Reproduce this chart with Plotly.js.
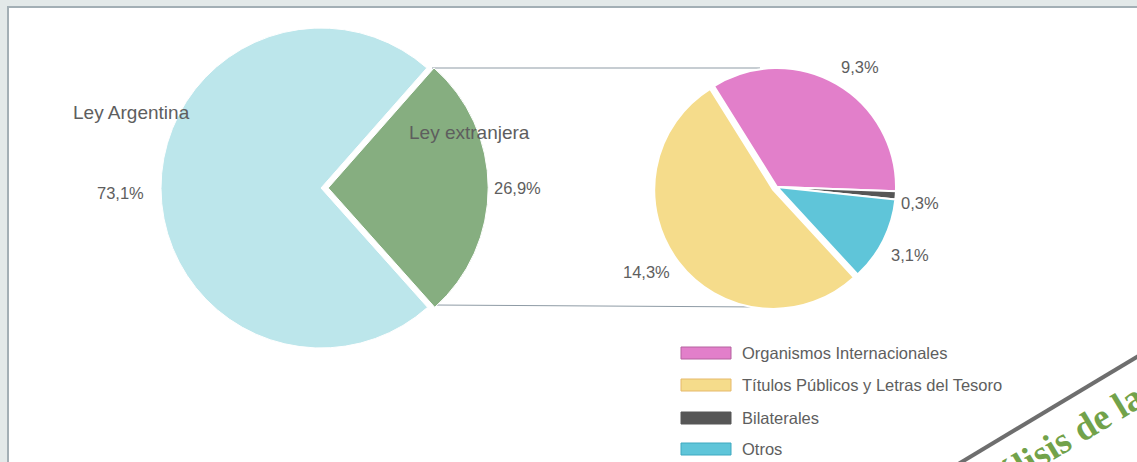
<!DOCTYPE html>
<html>
<head>
<meta charset="utf-8">
<script src="https://cdn.plot.ly/plotly-3.0.1.min.js"></script>
<style>html,body{margin:0;padding:0;background:#e3e9e9;}#chart{width:1137px;height:462px;}</style>
</head>
<body>
<div id="chart"></div>
<script>
// ---- data ----
const mainLabels = ['Ley extranjera', 'Ley Argentina'];
const mainValues = [26.9, 73.1];
const mainColors = ['#86ae80', '#bce6eb'];

const subLabels = ['Organismos Internacionales', 'Bilaterales', 'Otros', 'Títulos Públicos y Letras del Tesoro'];
const subValues = [9.3, 0.3, 3.1, 14.3];
const subColors = ['#e27fca', '#565656', '#5fc5d9', '#f5dc8b'];
const subBorders = ['#b5629f', '#565656', '#3fa9c0', '#e6b96a'];
const legendOrder = ['Organismos Internacionales', 'Títulos Públicos y Letras del Tesoro', 'Bilaterales', 'Otros'];

const fmt = v => v.toFixed(1).replace('.', ',') + '%';

// ---- helpers (pixel -> paper) ----
const W = 1137, H = 462;
const px = x => x / W;
const py = y => 1 - y / H;

const FONT = 'Liberation Sans, Arial, sans-serif';
const TXT = '#5e5e5e';

// main pie geometry
const mR = 160, mPull = 0.045, mcx = 321, mcy = 188;
const mHalf = mR * (1 + mPull);
// sub pie geometry
const sR = 119, sPull = 0.04, scx = 777, scy = 187;
const sHalf = sR * (1 + sPull);

const traces = [
  {
    type: 'pie', labels: mainLabels, values: mainValues, sort: false,
    direction: 'clockwise', rotation: 41.4,
    pull: [mPull, 0],
    marker: { colors: mainColors, line: { color: '#ffffff', width: 1 } },
    textinfo: 'none', hoverinfo: 'skip', showlegend: false,
    domain: { x: [px(mcx - mHalf), px(mcx + mHalf)], y: [py(mcy + mHalf), py(mcy - mHalf)] }
  },
  {
    type: 'pie', labels: subLabels, values: subValues, sort: false,
    direction: 'clockwise', rotation: -32,
    pull: [0, 0, 0, sPull],
    marker: { colors: subColors, line: { color: '#ffffff', width: 2 } },
    textinfo: 'none', hoverinfo: 'skip', showlegend: false,
    domain: { x: [px(scx - sHalf), px(scx + sHalf)], y: [py(scy + sHalf), py(scy - sHalf)] }
  }
];

const shapes = [
  // white panel with frame
  { type: 'rect', xref: 'paper', yref: 'paper', x0: px(8), x1: px(1150), y0: py(480), y1: py(7),
    fillcolor: '#ffffff', line: { color: '#a3afb5', width: 2 }, layer: 'below' },
  // connector lines
  { type: 'line', xref: 'paper', yref: 'paper', x0: px(432), y0: py(68), x1: px(760), y1: py(68),
    line: { color: '#8e9ba5', width: 1 }, layer: 'below' },
  { type: 'line', xref: 'paper', yref: 'paper', x0: px(433), y0: py(305), x1: px(762), y1: py(307),
    line: { color: '#8e9ba5', width: 1 }, layer: 'below' },
  // stamp diagonal line
  { type: 'line', xref: 'paper', yref: 'paper', x0: px(945), y0: py(472), x1: px(1150), y1: py(349),
    line: { color: '#6e6e6e', width: 4 }, layer: 'above' }
];

const annotations = [];
function label(text, x, y, size) {
  annotations.push({ xref: 'paper', yref: 'paper', x: px(x), y: py(y), text: text, showarrow: false,
    xanchor: 'center', yanchor: 'middle', font: { family: FONT, size: size, color: TXT } });
}
label(mainLabels[1], 131, 112, 19);
label(fmt(mainValues[1]), 120, 193, 16.5);
label(mainLabels[0], 469, 132, 19);
label(fmt(mainValues[0]), 517, 188, 16.5);
label(fmt(subValues[0]), 860, 67, 16.5);
label(fmt(subValues[1]), 920, 203, 16.5);
label(fmt(subValues[2]), 910, 255, 16.5);
label(fmt(subValues[3]), 646, 272, 16.5);

// custom legend
const legY = [353, 385, 418, 449];
legendOrder.forEach((name, i) => {
  const k = subLabels.indexOf(name);
  shapes.push({ type: 'rect', xref: 'paper', yref: 'paper',
    x0: px(681), x1: px(731), y0: py(legY[i] + 6), y1: py(legY[i] - 6),
    fillcolor: subColors[k], line: { color: subBorders[k], width: 1 }, layer: 'above' });
  annotations.push({ xref: 'paper', yref: 'paper', x: px(740), y: py(legY[i]), text: name, showarrow: false,
    xanchor: 'left', yanchor: 'middle', font: { family: FONT, size: 16.5, color: TXT } });
});

// stamp text (partially cut off by the page edge, as in the original scan)
annotations.push({ xref: 'paper', yref: 'paper', x: px(1050), y: py(447), text: '<b>Análisis de la</b>', showarrow: false,
  xanchor: 'center', yanchor: 'middle', textangle: -31,
  font: { family: 'Liberation Serif, DejaVu Serif, serif', size: 37, color: '#72a24a' } });

const layout = {
  width: W, height: H,
  margin: { l: 0, r: 0, t: 0, b: 0 },
  paper_bgcolor: '#e3e9e9',
  plot_bgcolor: 'rgba(0,0,0,0)',
  showlegend: false,
  shapes: shapes,
  annotations: annotations
};

Plotly.newPlot('chart', traces, layout, { staticPlot: true, displayModeBar: false });
</script>
</body>
</html>
